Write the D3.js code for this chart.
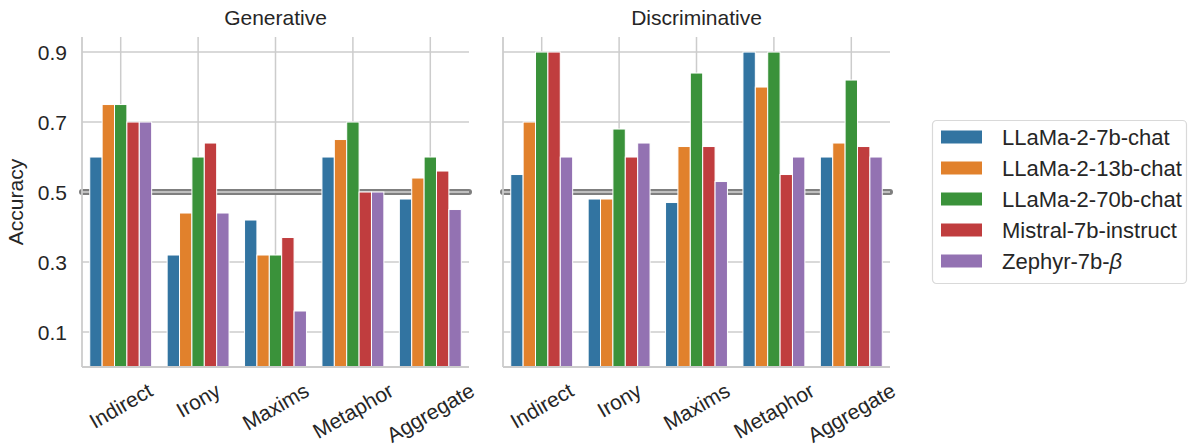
<!DOCTYPE html>
<html>
<head>
<meta charset="utf-8">
<script src="https://cdn.jsdelivr.net/npm/d3@7"></script>
<style>
  body { margin: 0; background: #fff; }
  text { font-family: "Liberation Sans", Arial, sans-serif; fill: #262626; }
</style>
</head>
<body>
<svg id="chart" width="1189" height="448"></svg>
<script>
// categories / series
const categories = ['Indirect', 'Irony', 'Maxims', 'Metaphor', 'Aggregate'];
const models = ['LLaMa-2-7b-chat', 'LLaMa-2-13b-chat', 'LLaMa-2-70b-chat', 'Mistral-7b-instruct', 'Zephyr-7b-β'];
const panels = ['Generative', 'Discriminative'];
const yTicks = [0.1, 0.3, 0.5, 0.7, 0.9];
const chanceLevel = 0.5;

// one row per category, one value per model
const generativeValues = [
  [0.60, 0.75, 0.75, 0.70, 0.70],
  [0.32, 0.44, 0.60, 0.64, 0.44],
  [0.42, 0.32, 0.32, 0.37, 0.16],
  [0.60, 0.65, 0.70, 0.50, 0.50],
  [0.48, 0.54, 0.60, 0.56, 0.45],
];
const discriminativeValues = [
  [0.55, 0.70, 0.90, 0.90, 0.60],
  [0.48, 0.48, 0.68, 0.60, 0.64],
  [0.47, 0.63, 0.84, 0.63, 0.53],
  [0.90, 0.80, 0.90, 0.55, 0.60],
  [0.60, 0.64, 0.82, 0.63, 0.60],
];
const panelValues = [generativeValues, discriminativeValues];

const colors = ['#3274a1', '#e1812c', '#3a923a', '#c03d3e', '#9372b2'];
const color = d3.scaleOrdinal(models, colors);

const svg = d3.select('#chart');
const plotTop = 37, plotBottom = 367;
const panelX = [[82, 469], [503, 890]];
const fontSize = 21;

const y = d3.scaleLinear([0, 0.943], [plotBottom, plotTop]);
const gridColor = '#cccccc';

panels.forEach((title, pi) => {
  const [x0, x1] = panelX[pi];
  const x = d3.scaleBand(categories, [x0, x1]);
  const xInner = d3.scaleBand(models, [x.bandwidth() * 0.1, x.bandwidth() * 0.9]);
  const g = svg.append('g');

  // grid
  g.append('g').selectAll('line').data(yTicks).join('line')
      .attr('x1', x0).attr('x2', x1)
      .attr('y1', (d) => y(d)).attr('y2', (d) => y(d))
      .attr('stroke', gridColor).attr('stroke-width', 1.5);
  g.append('g').selectAll('line').data(categories).join('line')
      .attr('x1', (d) => x(d) + x.bandwidth() / 2).attr('x2', (d) => x(d) + x.bandwidth() / 2)
      .attr('y1', plotTop).attr('y2', plotBottom)
      .attr('stroke', gridColor).attr('stroke-width', 1.5);

  // chance line (thick grey with a light core)
  g.append('line')
      .attr('x1', x0).attr('x2', x1).attr('y1', y(chanceLevel)).attr('y2', y(chanceLevel))
      .attr('stroke', '#7f7f7f').attr('stroke-width', 6).attr('stroke-linecap', 'round');
  g.append('line')
      .attr('x1', x0).attr('x2', x1).attr('y1', y(chanceLevel)).attr('y2', y(chanceLevel))
      .attr('stroke', '#d4d4d4').attr('stroke-width', 1.5);

  // bars
  const rows = panelValues[pi];
  g.append('g').selectAll('g').data(categories).join('g')
      .attr('transform', (d) => `translate(${x(d)},0)`)
    .selectAll('rect')
    .data((d, i) => models.map((m, j) => ({ model: m, value: rows[i][j] })))
    .join('rect')
      .attr('x', (d) => xInner(d.model))
      .attr('width', xInner.bandwidth())
      .attr('y', (d) => y(d.value))
      .attr('height', (d) => plotBottom - y(d.value))
      .attr('fill', (d) => color(d.model))
      .attr('stroke', '#fff').attr('stroke-width', 1);

  // spines
  g.append('line').attr('x1', x0).attr('x2', x0).attr('y1', plotTop).attr('y2', plotBottom)
      .attr('stroke', gridColor).attr('stroke-width', 1.8);
  g.append('line').attr('x1', x0).attr('x2', x1).attr('y1', plotBottom).attr('y2', plotBottom)
      .attr('stroke', gridColor).attr('stroke-width', 1.8);

  // title
  g.append('text').attr('x', (x0 + x1) / 2).attr('y', 25)
      .attr('text-anchor', 'middle').attr('font-size', fontSize).text(title);

  // y tick labels on the first panel only
  if (pi === 0) {
    g.append('g').selectAll('text').data(yTicks).join('text')
        .attr('x', x0 - 15).attr('y', (d) => y(d)).attr('dy', '0.36em')
        .attr('text-anchor', 'end').attr('font-size', fontSize)
        .text((d) => d3.format('.1f')(d));
  }

  // rotated x labels, bbox top-centred under the tick
  const angle = 30 * Math.PI / 180;
  g.append('g').selectAll('text').data(categories).join('text')
      .attr('font-size', fontSize).attr('text-anchor', 'middle').attr('dy', '0.36em')
      .text((d) => d)
      .each(function (d) {
        const w = this.getComputedTextLength();
        const h = 17;
        const bh = w * Math.sin(angle) + h * Math.cos(angle);
        const cx = x(d) + x.bandwidth() / 2;
        const cy = plotBottom + 14 + bh / 2;
        d3.select(this).attr('transform', `translate(${cx},${cy}) rotate(-30)`);
      });
});

// y label
svg.append('text')
    .attr('transform', `translate(23,${(plotTop + plotBottom) / 2}) rotate(-90)`)
    .attr('text-anchor', 'middle').attr('font-size', fontSize).text('Accuracy');

// legend
const legend = svg.append('g').attr('transform', 'translate(932,120)');
legend.append('rect').attr('x', 0.5).attr('y', 0.5).attr('width', 254).attr('height', 163)
    .attr('rx', 4).attr('fill', '#fff').attr('stroke', '#d9d9d9').attr('stroke-width', 1.2);
const items = legend.selectAll('g').data(models).join('g')
    .attr('transform', (d, i) => `translate(9,${17 + i * 31})`);
items.append('rect').attr('x', 0).attr('y', -6.5).attr('width', 41).attr('height', 13)
    .attr('fill', (d) => color(d));
items.append('text').attr('x', 61).attr('dy', '0.36em').attr('font-size', 22)
    .each(function (d) {
      const t = d3.select(this);
      if (d.endsWith('β')) {
        t.append('tspan').text(d.slice(0, -1));
        t.append('tspan').attr('font-style', 'italic').text('β');
      } else {
        t.text(d);
      }
    });
</script>
</body>
</html>
